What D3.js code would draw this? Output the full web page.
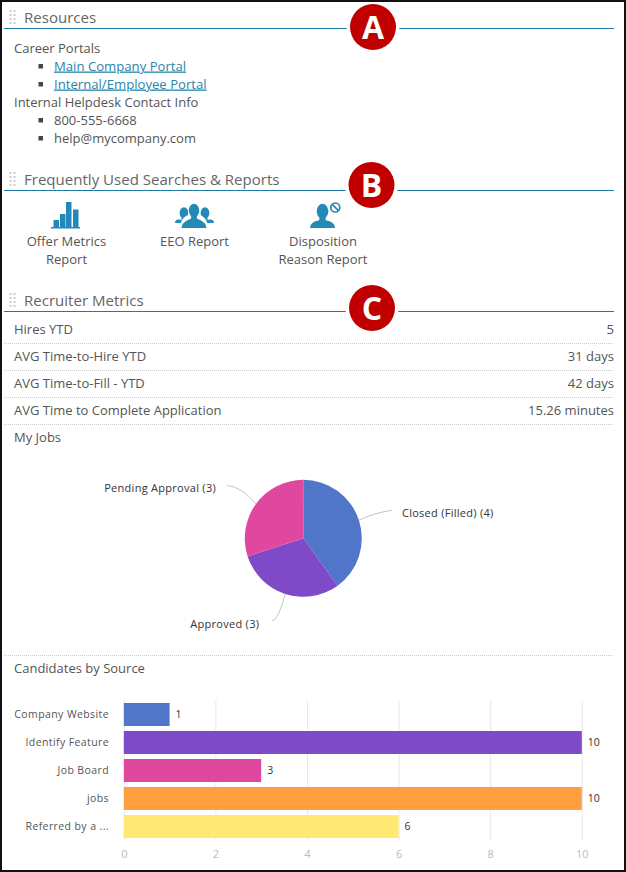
<!DOCTYPE html>
<html><head><meta charset="utf-8">
<script src="https://cdnjs.cloudflare.com/ajax/libs/d3/7.8.5/d3.min.js"></script>
<style>
html,body{margin:0;padding:0;background:#fff;overflow:hidden}
svg{display:block}
text{font-family:"Open Sans",sans-serif}
</style></head><body>
<svg id="c" width="626" height="872"></svg>
<script>
const sectionTitles = ["Resources","Frequently Used Searches & Reports","Recruiter Metrics"];
const badgeLetters = ["A","B","C"];
const resourceLines = ["Career Portals","Main Company Portal","Internal/Employee Portal","Internal Helpdesk Contact Info","800-555-6668","help@mycompany.com"];
const reportLabels = [["Offer Metrics","Report"],["EEO Report"],["Disposition","Reason Report"]];
const metricNames = ["Hires YTD","AVG Time-to-Hire YTD","AVG Time-to-Fill - YTD","AVG Time to Complete Application"];
const metricValues = ["5","31 days","42 days","15.26 minutes"];
const pieCategories = ["Closed (Filled)","Approved","Pending Approval"];
const pieValues = [4,3,3];
const pieColors = ["#5175c8","#7f4ac8","#e0489f"];
const barCategories = ["Company Website","Identify Feature","Job Board","jobs","Referred by a ..."];
const barValues = [1,10,3,10,6];
const barColors = ["#5175c8","#7f4ac8","#e0489f","#ff9f40","#ffe974"];
const xTicks = [0,2,4,6,8,10];

const svg = d3.select("#c");
const BLUE="#1b7ba6", ICON="#2389b8", TXT="#555", HEAD="#666";

// section headers
const headY=[28.5,190.5,311.5];
headY.forEach((y,i)=>{
  svg.append("line").attr("x1",4).attr("x2",614).attr("y1",y).attr("y2",y).attr("stroke",BLUE).attr("stroke-width",1.2);
  svg.append("text").attr("x",24).attr("y",y-6).attr("font-size",15.05).attr("fill",HEAD).text(sectionTitles[i]);
  for(let r=0;r<4;r++)for(let c=0;c<2;c++)
    svg.append("rect").attr("x",9.5+c*4).attr("y",y-18.5+r*4).attr("width",2).attr("height",2).attr("fill","#ccc");
});

// Resources
const resY=[48,66,84,102,120,138];
const listed=[false,true,true,false,true,true];
const linked=[false,true,true,false,false,false];
resourceLines.forEach((t,i)=>{
  const el=svg.append("text").attr("x",listed[i]?54:14).attr("y",resY[i]+4.5).attr("font-size",linked[i]?13.15:13)
    .attr("fill",linked[i]?"#2a84ad":TXT).text(t);
  if(linked[i])el.attr("text-decoration","underline");
  if(listed[i])svg.append("rect").attr("x",38.5).attr("y",resY[i]-2).attr("width",4.5).attr("height",4.5).attr("fill","#444");
});

// Report icons
const iconG=svg.append("g").attr("fill",ICON);
[[53.5,220,5.5,7],[60,214,5.5,13],[66,202,5.5,25],[73,209.5,5.5,17.5],[51,227,29,1.5]].forEach(r=>
  iconG.append("rect").attr("x",r[0]).attr("y",r[1]).attr("width",r[2]).attr("height",r[3]));
function person(parent,cx,top,rHead,w,bottom){
  const g=parent.append("g");
  g.append("ellipse").attr("cx",cx).attr("cy",top+rHead*1.25).attr("rx",rHead).attr("ry",rHead*1.3);
  const sy=top+rHead*2.3;
  g.append("path").attr("d",`M${cx-rHead*0.55} ${sy} L${cx-rHead*0.55} ${sy+rHead*0.5} Q${cx-w} ${bottom-rHead*1.1} ${cx-w} ${bottom} L${cx+w} ${bottom} Q${cx+w} ${bottom-rHead*1.1} ${cx+rHead*0.55} ${sy+rHead*0.5} L${cx+rHead*0.55} ${sy} Z`);
}
person(iconG,184,207.5,4.4,9,223);
person(iconG,205,207.5,4.4,9,223);
svg.append("path").attr("d","M181 228V222Q183 217 188 215L188 206Q194 200 200 206L200 215Q205 217 207 222V228Z").attr("fill","#fff");
const frontG=svg.append("g").attr("fill",ICON);
person(frontG,194,204,5.2,12.5,228);
person(frontG,322.5,204,5.8,12.5,228);
const ban=svg.append("g").attr("fill","none").attr("stroke",ICON).attr("stroke-width",1.7);
ban.append("circle").attr("cx",335.3).attr("cy",207.5).attr("r",4.5);
ban.append("line").attr("x1",332.2).attr("y1",204.4).attr("x2",338.4).attr("y2",210.6);
const repX=[66.5,194.5,323];
reportLabels.forEach((ls,i)=>ls.forEach((l,j)=>
  svg.append("text").attr("x",repX[i]).attr("y",245.5+j*18).attr("text-anchor","middle").attr("font-size",13).attr("fill",TXT).text(l)));

// Metric rows
const rowY=[329,356,383,410];
metricNames.forEach((n,i)=>{
  svg.append("text").attr("x",14).attr("y",rowY[i]+4.5).attr("font-size",13).attr("fill",TXT).text(n);
  svg.append("text").attr("x",614).attr("y",rowY[i]+4.5).attr("text-anchor","end").attr("font-size",13).attr("fill",TXT).text(metricValues[i]);
});
[343.5,370.5,397.5,424.5,655.5].forEach(y=>
  svg.append("line").attr("x1",4).attr("x2",614).attr("y1",y).attr("y2",y).attr("stroke","#ccc").attr("stroke-dasharray","1 1"));
svg.append("text").attr("x",14).attr("y",441.5).attr("font-size",13).attr("fill",TXT).text("My Jobs");
svg.append("text").attr("x",14).attr("y",673).attr("font-size",13).attr("fill",TXT).text("Candidates by Source");

// Pie
const R=58.5;
const pieG=svg.append("g").attr("transform","translate(303.3,538.3)");
const arcs=d3.pie().sort(null)(pieValues);
const arc=d3.arc().innerRadius(0).outerRadius(R);
pieG.selectAll("path.s").data(arcs).join("path").attr("class","s").attr("d",arc).attr("fill",(d,i)=>pieColors[i]);
const edge=d3.arc().innerRadius(R).outerRadius(R);
const leader=[{dx:33,dy:-10,cx:14,cy:-7,tx:43,ty:-3.5,a:"start"},
              {dx:-13.5,dy:27,cx:-7,cy:27,tx:-26,ty:34,a:"end"},
              {dx:-29,dy:-18.5,cx:-14,cy:-17,tx:-40,ty:-11.5,a:"end"}];
arcs.forEach((d,i)=>{
  const [x,y]=edge.centroid(d), l=leader[i];
  pieG.append("path").attr("d",`M${x} ${y}Q${x+l.cx} ${y+l.cy} ${x+l.dx} ${y+l.dy}`).attr("fill","none").attr("stroke","#c4c4c4");
  pieG.append("text").attr("x",x+l.tx).attr("y",y+l.ty).attr("text-anchor",l.a).attr("font-size",11).attr("letter-spacing",0.28).attr("fill","#333")
    .text(`${pieCategories[i]} (${pieValues[i]})`);
});

// Bars
const x=d3.scaleLinear().domain([0,10]).range([123.8,581.8]);
const y=d3.scaleBand().domain(barCategories).range([700.5,840.5]).paddingInner(5/28).paddingOuter(2.5/28);
const xAxis=d3.axisBottom(x).tickValues(xTicks).tickSize(-140).tickPadding(8);
const ax=svg.append("g").attr("transform","translate(0,840.5)").call(xAxis);
ax.select(".domain").remove();
ax.selectAll(".tick line").attr("stroke","#e8e8e8");
ax.selectAll(".tick text").attr("font-size",11).attr("fill","#bbb").attr("font-family",'"Open Sans",sans-serif').attr("dy","0.9em");
const yAxis=d3.axisLeft(y).tickSize(0).tickPadding(15);
const ay=svg.append("g").attr("transform","translate(124,0)").call(yAxis);
ay.select(".domain").remove();
ay.selectAll(".tick text").attr("font-size",10.5).attr("letter-spacing",0.4).attr("fill","#555").attr("font-family",'"Open Sans",sans-serif');
svg.selectAll("rect.bar").data(barValues).join("rect").attr("class","bar")
  .attr("x",x(0)).attr("y",(d,i)=>y(barCategories[i])).attr("width",d=>x(d)-x(0)).attr("height",y.bandwidth())
  .attr("fill",(d,i)=>barColors[i]);
svg.selectAll("text.val").data(barValues).join("text").attr("class","val")
  .attr("x",d=>x(d)+6).attr("y",(d,i)=>y(barCategories[i])+y.bandwidth()/2+3).attr("font-size",10.5).attr("fill","#333").text(d=>d);

// Badges
const badgeC=[[373,27],[371.5,185],[372,308]];
badgeLetters.forEach((b,i)=>{
  const [cx,cy]=badgeC[i];
  svg.append("circle").attr("cx",cx).attr("cy",cy).attr("r",26.5).attr("fill","#fff");
  svg.append("circle").attr("cx",cx).attr("cy",cy).attr("r",23).attr("fill","#c00000");
  svg.append("text").attr("x",cx).attr("y",cy+11.5).attr("text-anchor","middle").attr("font-size",32).attr("font-weight",700).attr("fill","#fff").text(b);
});

// frame
svg.append("rect").attr("x",1).attr("y",1).attr("width",624).attr("height",870).attr("fill","none").attr("stroke","#111").attr("stroke-width",2);
</script>
</body></html>
